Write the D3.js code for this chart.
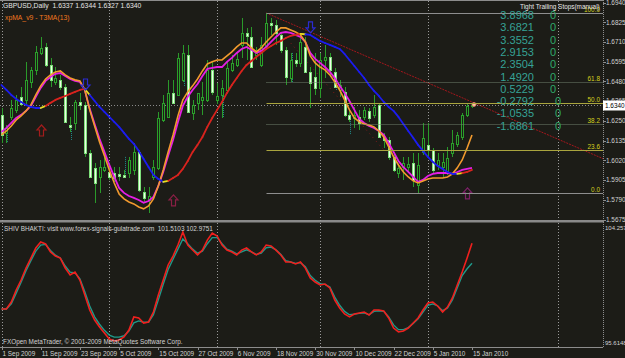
<!DOCTYPE html>
<html>
<head>
<meta charset="utf-8">
<script src="https://cdn.jsdelivr.net/npm/d3@7"></script>
<style>
  html, body { margin: 0; padding: 0; background: #1c1c17; }
  svg { display: block; }
  text { font-family: "Liberation Sans", Arial, sans-serif; }
</style>
</head>
<body>
<svg id="chart" width="625" height="358"></svg>
<script>
// ---- data ----
const symbolTitle = 'GBPUSD,Daily';
const indicatorTitle = 'xpMA_v9 - T3MA(13)';
const oscTitle = 'SHIV BHAKTI: visit www.forex-signals-gulatrade.com';
const copyright = 'FXOpen MetaTrader, \u00a9 2001-2009 MetaQuotes Software Corp.';

const dateLabels = ['1 Sep 2009', '11 Sep 2009', '23 Sep 2009', '5 Oct 2009', '15 Oct 2009', '27 Oct 2009',
  '6 Nov 2009', '18 Nov 2009', '30 Nov 2009', '10 Dec 2009', '22 Dec 2009', '5 Jan 2010', '15 Jan 2010'];
const dateBars = [0, 8, 16, 24, 32, 40, 48, 56, 64, 72, 80, 88, 96];
const monthStartBars = [0, 22, 44, 65, 87, 113.5];

const priceTicks = [1.6940, 1.6825, 1.6710, 1.6595, 1.6480, 1.6365, 1.6250, 1.6135, 1.6020, 1.5905, 1.5790, 1.5675];
const oscRange = [95.6148, 104.2575];

// daily bars: open, high, low, close
const ohlc = [
  [1.6285,1.6325,1.6121,1.6168],[1.6180,1.6226,1.6121,1.6209],[1.6273,1.6372,1.6255,1.6325],[1.6314,1.6401,1.6296,1.6372],
  [1.6390,1.6448,1.6337,1.6349],[1.6372,1.6594,1.6349,1.6489],[1.6477,1.6564,1.6442,1.6547],[1.6547,1.6687,1.6518,1.6652],
  [1.6646,1.6739,1.6634,1.6675],[1.6681,1.6704,1.6564,1.6576],[1.6576,1.6617,1.6448,1.6489],[1.6477,1.6564,1.6459,1.6500],
  [1.6489,1.6518,1.6430,1.6448],[1.6448,1.6465,1.6238,1.6244],[1.6226,1.6273,1.6185,1.6215],[1.6238,1.6372,1.6197,1.6360],
  [1.6360,1.6413,1.6314,1.6343],[1.6343,1.6360,1.6040,1.6063],[1.6063,1.6081,1.5917,1.5923],[1.5976,1.6005,1.5772,1.5888],
  [1.5923,1.6022,1.5830,1.5981],[1.5964,1.6040,1.5952,1.5981],[1.5952,1.6005,1.5906,1.5923],[1.5946,1.5981,1.5894,1.5917],
  [1.5941,1.5981,1.5900,1.5929],[1.5935,1.5964,1.5917,1.5923],[1.5946,1.6040,1.5917,1.6022],[1.5964,1.6121,1.5935,1.6069],
  [1.6069,1.6081,1.5836,1.5847],[1.5836,1.5865,1.5772,1.5801],[1.5789,1.5865,1.5713,1.5812],[1.5923,1.6022,1.5906,1.5981],
  [1.5976,1.6302,1.5964,1.6267],[1.6255,1.6401,1.6244,1.6355],[1.6273,1.6489,1.6267,1.6413],[1.6413,1.6489,1.6372,1.6355],
  [1.6401,1.6646,1.6395,1.6617],[1.6489,1.6693,1.6477,1.6646],[1.6634,1.6693,1.6296,1.6302],[1.6296,1.6372,1.6255,1.6343],
  [1.6355,1.6401,1.6314,1.6413],[1.6372,1.6477,1.6285,1.6390],[1.6372,1.6605,1.6360,1.6547],[1.6547,1.6594,1.6401,1.6419],
  [1.6372,1.6471,1.6349,1.6395],[1.6401,1.6489,1.6267,1.6442],[1.6430,1.6594,1.6419,1.6559],[1.6547,1.6634,1.6535,1.6588],
  [1.6576,1.6652,1.6564,1.6611],[1.6693,1.6850,1.6617,1.6763],[1.6763,1.6792,1.6605,1.6745],[1.6739,1.6798,1.6559,1.6564],
  [1.6634,1.6681,1.6605,1.6664],[1.6576,1.6739,1.6564,1.6693],[1.6681,1.6879,1.6675,1.6821],[1.6821,1.6850,1.6751,1.6809],
  [1.6809,1.6838,1.6693,1.6763],[1.6751,1.6768,1.6646,1.6664],[1.6664,1.6681,1.6459,1.6506],[1.6500,1.6646,1.6477,1.6605],
  [1.6605,1.6646,1.6564,1.6588],[1.6588,1.6763,1.6564,1.6710],[1.6681,1.6739,1.6529,1.6535],[1.6535,1.6564,1.6325,1.6471],
  [1.6506,1.6646,1.6401,1.6442],[1.6442,1.6646,1.6384,1.6605],[1.6605,1.6693,1.6500,1.6623],[1.6623,1.6646,1.6506,1.6547],
  [1.6535,1.6559,1.6442,1.6448],[1.6430,1.6489,1.6390,1.6459],[1.6419,1.6448,1.6273,1.6285],[1.6285,1.6314,1.6244,1.6261],
  [1.6267,1.6331,1.6209,1.6285],[1.6273,1.6314,1.6197,1.6238],[1.6273,1.6331,1.6255,1.6314],[1.6308,1.6325,1.6244,1.6267],
  [1.6285,1.6401,1.6267,1.6331],[1.6343,1.6355,1.6151,1.6156],[1.6156,1.6180,1.6092,1.6139],[1.6139,1.6156,1.6022,1.6040],
  [1.6040,1.6069,1.5952,1.5964],[1.5946,1.5993,1.5917,1.5976],[1.5981,1.6040,1.5906,1.6005],[1.5981,1.6040,1.5952,1.5999],
  [1.6005,1.6063,1.5865,1.5906],[1.5876,1.6063,1.5830,1.5993],[1.6069,1.6238,1.6051,1.6151],[1.6110,1.6238,1.6040,1.6081],
  [1.6081,1.6092,1.5946,1.5964],[1.5993,1.6063,1.5964,1.6022],[1.5981,1.6063,1.5923,1.6011],[1.5946,1.6098,1.5935,1.6034],
  [1.6063,1.6197,1.6040,1.6121],[1.6116,1.6185,1.6098,1.6168],[1.6156,1.6296,1.6139,1.6285],[1.6285,1.6355,1.6273,1.6337],
  [1.6337,1.6344,1.6327,1.6340]
];

// slow xpMA (blue falling / red rising)
const maSlow = [1.6459,1.6430,1.6401,1.6378,1.6360,1.6343,1.6331,1.6325,1.6325,1.6337,1.6355,1.6372,1.6384,1.6395,1.6407,1.6419,
  1.6430,1.6436,1.6401,1.6366,1.6331,1.6302,1.6273,1.6244,1.6215,1.6180,1.6145,1.6116,1.6075,1.6028,1.5981,1.5935,
  1.5911,1.5894,1.5900,1.5917,1.5935,1.5970,1.6016,1.6069,1.6110,1.6156,1.6215,1.6267,1.6314,1.6360,1.6413,1.6459,
  1.6500,1.6541,1.6576,1.6599,1.6623,1.6646,1.6669,1.6687,1.6704,1.6716,1.6733,1.6745,1.6751,1.6757,1.6755,1.6751,
  1.6733,1.6716,1.6704,1.6693,1.6681,1.6669,1.6640,1.6605,1.6570,1.6535,1.6500,1.6459,1.6425,1.6395,1.6360,1.6331,
  1.6308,1.6273,1.6232,1.6191,1.6151,1.6110,1.6075,1.6040,1.6011,1.5987,1.5970,1.5952,1.5941,1.5941,1.5946,1.5952,1.5964];
// fast MA (magenta)
const maFast = [1.6185,1.6209,1.6238,1.6267,1.6285,1.6308,1.6337,1.6390,1.6442,1.6483,1.6506,1.6524,1.6529,1.6512,1.6494,1.6483,
  1.6477,1.6430,1.6320,1.6232,1.6145,1.6069,1.5993,1.5923,1.5859,1.5830,1.5812,1.5801,1.5789,1.5772,1.5783,1.5807,
  1.5871,1.5952,1.6046,1.6139,1.6244,1.6337,1.6390,1.6430,1.6465,1.6512,1.6553,1.6559,1.6564,1.6564,1.6594,1.6617,
  1.6646,1.6669,1.6681,1.6664,1.6646,1.6658,1.6681,1.6710,1.6739,1.6763,1.6768,1.6763,1.6751,1.6739,1.6710,1.6646,
  1.6611,1.6588,1.6564,1.6535,1.6500,1.6454,1.6413,1.6366,1.6314,1.6261,1.6238,1.6220,1.6209,1.6191,1.6168,1.6121,
  1.6069,1.6016,1.5981,1.5952,1.5923,1.5894,1.5906,1.5929,1.5941,1.5946,1.5946,1.5946,1.5941,1.5952,1.5964,1.5970,1.5976];
// T3MA(13) (orange)
const maT3 = [1.6168,1.6191,1.6220,1.6255,1.6279,1.6308,1.6343,1.6401,1.6454,1.6494,1.6518,1.6535,1.6541,1.6518,1.6500,1.6489,
  1.6483,1.6430,1.6314,1.6220,1.6127,1.6046,1.5964,1.5888,1.5824,1.5795,1.5777,1.5766,1.5748,1.5737,1.5754,1.5795,
  1.5871,1.5964,1.6069,1.6168,1.6279,1.6372,1.6419,1.6454,1.6494,1.6541,1.6582,1.6594,1.6605,1.6605,1.6629,1.6652,
  1.6681,1.6704,1.6704,1.6675,1.6652,1.6675,1.6710,1.6739,1.6768,1.6792,1.6792,1.6780,1.6768,1.6751,1.6710,1.6629,
  1.6588,1.6564,1.6547,1.6518,1.6477,1.6430,1.6372,1.6314,1.6267,1.6244,1.6232,1.6226,1.6215,1.6191,1.6156,1.6098,
  1.6040,1.5993,1.5952,1.5923,1.5900,1.5888,1.5900,1.5911,1.5917,1.5917,1.5917,1.5923,1.5941,1.5976,1.6022,1.6092,1.6168];

// trailing-stop dots (bar, top, bottom)
const stopDots = [[1,1.6215,1.6121],[14,1.6226,1.6139],[25,1.6040,1.5923],[37,1.6646,1.6448],[45,1.6430,1.6267],
  [59,1.6646,1.6471],[68,1.6506,1.6430],[71,1.6285,1.6168],[80,1.6040,1.5964],[81,1.5976,1.5946]];

// signal arrows (bar, price at tip)
const upArrows = [[8,1.6226],[35,1.5818],[95,1.5859]];
const downArrows = [[17,1.6430],[63,1.6763]];

// fibonacci between the November high and the December low
const fibLevels = [100.0, 61.8, 50.0, 38.2, 23.6, 0.0];
const fibFromBar = 54, fibLowBar = 85;
// trend lines (bar, price) pairs
const trendMain = [[54,1.6879],[96,1.6360]];
const trendSteep = [[59,1.6704],[78,1.6080]];

const stopValues = [3.8968, 3.6821, 3.3552, 2.9153, 2.3504, 1.4920, 0.5229, -0.2792, -1.0535, -1.6861];
const stopFlags = [0, 0, 0, 0, 0, 0, 0, 0, 0, 0];

// oscillator (lower window)
const oscRed = [98.13,98.13,98.64,99.53,100.27,101.15,101.89,102.63,103.08,102.93,102.34,102.04,101.89,101.15,100.64,100.86,
  100.27,99.16,98.05,97.31,96.80,96.35,95.91,95.76,95.84,96.06,96.57,97.54,97.46,97.09,97.17,97.90,
  99.16,100.27,101.38,102.04,102.85,103.81,102.85,102.48,102.12,102.48,103.22,103.74,103.52,102.85,102.48,102.34,
  102.12,102.48,102.63,102.34,102.12,102.34,102.85,102.78,102.48,102.12,101.60,101.60,101.45,101.60,101.15,100.42,
  100.12,99.90,99.97,99.68,98.79,98.20,97.76,97.54,97.76,97.83,97.90,97.68,98.05,98.05,97.98,97.46,
  96.72,96.43,96.50,96.72,97.09,97.46,98.05,98.57,98.64,98.35,97.90,98.27,98.94,99.90,100.86,101.90,102.9751];
const oscTeal = [98.13,98.13,98.50,99.30,100.10,100.95,101.70,102.40,102.85,102.90,102.45,102.10,101.90,101.30,100.85,100.80,
  100.35,99.40,98.35,97.55,97.00,96.55,96.20,96.05,96.05,96.15,96.50,97.10,97.25,97.15,97.15,97.70,
  98.80,99.95,101.05,101.80,102.55,103.30,102.95,102.55,102.25,102.40,102.95,103.40,103.40,102.95,102.55,102.40,
  102.20,102.35,102.50,102.35,102.15,102.25,102.65,102.70,102.50,102.15,101.70,101.60,101.50,101.55,101.25,100.60,
  100.25,100.00,99.95,99.75,99.00,98.40,97.95,97.70,97.75,97.80,97.85,97.70,97.95,98.00,97.95,97.55,
  96.95,96.60,96.60,96.75,97.05,97.40,97.90,98.40,98.50,98.35,98.00,98.20,98.80,99.70,100.60,101.10,101.5103];

// ---- drawing ----
const bg = '#1c1c17';
const plotRight = 603, mainBottom = 220, oscTop = 223, oscBottom = 347;
const fontSmall = 6.4;

function render() {
  const svg = d3.select('#chart');
  svg.append('rect').attr('width', 625).attr('height', 358).attr('fill', bg);

  const x = d3.scaleLinear().domain([0, 96]).range([1.5, 472]);
  const y = d3.scaleLinear().domain([1.5675, 1.6940]).range([219.5, 2.5]);
  const yo = d3.scaleLinear().domain(oscRange).range([343, 226]);
  const px = i => Math.round(x(i)) + 0.5;
  const py = v => Math.round(y(v)) + 0.5;

  const defs = svg.append('defs');
  defs.append('clipPath').attr('id', 'clipMain').append('rect')
    .attr('x', 0).attr('y', 1).attr('width', plotRight).attr('height', mainBottom - 1);
  defs.append('clipPath').attr('id', 'clipOsc').append('rect')
    .attr('x', 0).attr('y', oscTop).attr('width', plotRight).attr('height', oscBottom - oscTop);

  // frame
  svg.append('line').attr('x1', 0).attr('x2', plotRight).attr('y1', 0.5).attr('y2', 0.5).attr('stroke', '#8c8c8c');
  svg.append('rect').attr('x', 0).attr('y', mainBottom).attr('width', plotRight + 1).attr('height', 2.5).attr('fill', '#8a8a8a');
  svg.append('line').attr('x1', 0).attr('x2', plotRight).attr('y1', oscBottom + 0.5).attr('y2', oscBottom + 0.5).attr('stroke', '#8c8c8c');
  svg.append('line').attr('x1', plotRight + 0.5).attr('x2', plotRight + 0.5).attr('y1', 0).attr('y2', oscBottom)
    .attr('stroke', '#8c8c8c').attr('stroke-dasharray', '1,1');

  // month separators
  svg.append('g').selectAll('line').data(monthStartBars).enter().append('line')
    .attr('x1', d => px(d)).attr('x2', d => px(d)).attr('y1', 1).attr('y2', oscBottom)
    .attr('stroke', '#9a9a9a').attr('stroke-dasharray', '1,2');

  const main = svg.append('g').attr('clip-path', 'url(#clipMain)');
  const last = ohlc[ohlc.length - 1];

  // bid line
  main.append('line').attr('x1', 0).attr('x2', plotRight).attr('y1', py(last[3])).attr('y2', py(last[3]))
    .attr('stroke', '#8a8a8a').attr('stroke-dasharray', '1,2');

  // fibonacci
  const fibHigh = ohlc[fibFromBar][1], fibLow = ohlc[fibLowBar][2];
  const fibColor = l => (l === 100 || l === 0) ? '#8e8e8e' : (l === 61.8 || l === 38.2) ? '#71806e' : '#aaa53e';
  const fib = svg.append('g');
  fibLevels.forEach(l => {
    const v = fibLow + (fibHigh - fibLow) * l / 100;
    fib.append('line').attr('x1', px(fibFromBar)).attr('x2', plotRight).attr('y1', py(v)).attr('y2', py(v))
      .attr('stroke', fibColor(l)).attr('stroke-dasharray', (l === 61.8 || l === 38.2) ? '1,1' : null);
    fib.append('text').attr('x', 600).attr('y', py(v) - 2).attr('text-anchor', 'end')
      .attr('font-size', fontSmall).attr('fill', '#d6d21e').text(l.toFixed(1));
  });

  // trend lines
  const extend = (pts, toBar) => {
    const k = (pts[1][1] - pts[0][1]) / (pts[1][0] - pts[0][0]);
    return [pts[0], [toBar, pts[0][1] + k * (toBar - pts[0][0])]];
  };
  const tl = extend(trendMain, x.invert(plotRight));
  main.append('line').attr('x1', x(tl[0][0])).attr('y1', y(tl[0][1])).attr('x2', x(tl[1][0])).attr('y2', y(tl[1][1]))
    .attr('stroke', '#a5161c').attr('stroke-width', 1).attr('stroke-dasharray', '2,1');
  main.append('line').attr('x1', x(trendSteep[0][0])).attr('y1', y(trendSteep[0][1]))
    .attr('x2', x(trendSteep[1][0])).attr('y2', y(trendSteep[1][1]))
    .attr('stroke', '#8a1a1a').attr('stroke-dasharray', '1,4');

  // trailing stop dots
  main.append('g').selectAll('line').data(stopDots).enter().append('line')
    .attr('x1', d => px(d[0]) + 1).attr('x2', d => px(d[0]) + 1)
    .attr('y1', d => y(d[1])).attr('y2', d => y(d[2]))
    .attr('stroke', '#1f8d8d').attr('stroke-dasharray', '1,1');

  // candles
  const cg = main.append('g').attr('shape-rendering', 'crispEdges');
  const bars = cg.selectAll('g').data(ohlc).enter().append('g');
  bars.append('line')
    .attr('x1', (d, i) => px(i)).attr('x2', (d, i) => px(i))
    .attr('y1', d => y(d[1])).attr('y2', d => y(d[2]))
    .attr('stroke', '#2a9a2a');
  bars.append('rect')
    .attr('x', (d, i) => px(i) - 1)
    .attr('y', d => py(Math.max(d[0], d[3])))
    .attr('width', 2)
    .attr('height', d => Math.max(1, py(Math.min(d[0], d[3])) - py(Math.max(d[0], d[3]))))
    .attr('fill', d => d[3] >= d[0] ? bg : '#eefce8')
    .attr('stroke', d => d[3] >= d[0] ? '#2aa02a' : '#7ee07a');

  // moving averages
  const line = d3.line().x((d, i) => x(i)).y(d => y(d));
  main.append('path').datum(maFast).attr('d', line).attr('fill', 'none')
    .attr('stroke', '#e51ee5').attr('stroke-width', 1.8);
  main.append('path').datum(maT3).attr('d', line).attr('fill', 'none')
    .attr('stroke', '#f29a2e').attr('stroke-width', 1.6);

  // slow MA coloured by direction
  let prevDir = -1;
  const segs = [];
  for (let i = 0; i < maSlow.length - 1; i++) {
    let dir = Math.sign(maSlow[i + 1] - maSlow[i]);
    if (dir === 0) dir = prevDir;
    const color = (i > 0 && dir !== prevDir) ? '#e8e020' : (dir > 0 ? '#d8231e' : '#1c1cf0');
    segs.push({ i, color });
    prevDir = dir;
  }
  main.append('g').selectAll('line').data(segs).enter().append('line')
    .attr('x1', d => x(d.i)).attr('y1', d => y(maSlow[d.i]))
    .attr('x2', d => x(d.i + 1)).attr('y2', d => y(maSlow[d.i + 1]))
    .attr('stroke', d => d.color).attr('stroke-width', 1.8).attr('stroke-linecap', 'round');

  // arrows
  const upPath = 'M0,0 L4.5,5 L2,5 L2,11 L-2,11 L-2,5 L-4.5,5 Z';
  const upColors = ['#a31c1c', '#8a1f45', '#7e2068'];
  main.append('g').selectAll('path').data(upArrows).enter().append('path')
    .attr('d', upPath).attr('transform', d => `translate(${px(d[0])},${y(d[1])})`)
    .attr('fill', 'none').attr('stroke', (d, i) => upColors[i]).attr('stroke-width', 1.2);
  main.append('g').selectAll('path').data(downArrows).enter().append('path')
    .attr('d', upPath).attr('transform', d => `translate(${px(d[0])},${y(d[1])}) scale(1,-1)`)
    .attr('fill', 'none').attr('stroke', '#2b2bd0').attr('stroke-width', 1.2);

  // last price marker
  main.append('circle').attr('cx', x(96) + 2).attr('cy', y(last[3]) - 1).attr('r', 2)
    .attr('fill', '#f6c9a0').attr('stroke', '#e86a6a').attr('stroke-width', 0.8);

  // oscillator
  const osc = svg.append('g').attr('clip-path', 'url(#clipOsc)');
  const oline = d3.line().x((d, i) => x(i)).y(d => yo(d));
  osc.append('path').datum(oscTeal).attr('d', oline).attr('fill', 'none')
    .attr('stroke', '#1f9a8a').attr('stroke-width', 1.4);
  osc.append('path').datum(oscRed).attr('d', oline).attr('fill', 'none')
    .attr('stroke', '#f0201e').attr('stroke-width', 1.6);

  // price axis
  const ax = svg.append('g');
  ax.selectAll('line.t').data(priceTicks).enter().append('line')
    .attr('x1', plotRight).attr('x2', plotRight + 3).attr('y1', d => py(d)).attr('y2', d => py(d)).attr('stroke', '#8c8c8c');
  ax.selectAll('text.t').data(priceTicks).enter().append('text')
    .attr('x', 606).attr('y', d => y(d) + 2.3).attr('font-size', fontSmall).attr('fill', '#d2d2d2')
    .text(d => d.toFixed(4));
  ax.append('rect').attr('x', plotRight).attr('y', py(last[3]) - 5).attr('width', 22).attr('height', 10).attr('fill', '#ffffff');
  ax.append('text').attr('x', 605).attr('y', py(last[3]) + 2.3).attr('font-size', fontSmall).attr('fill', '#000')
    .text(last[3].toFixed(4));
  ax.append('text').attr('x', 605).attr('y', 229.5).attr('font-size', 6).attr('fill', '#d2d2d2').text(oscRange[1].toFixed(4));
  ax.append('text').attr('x', 605).attr('y', 345).attr('font-size', 6).attr('fill', '#d2d2d2').text(oscRange[0].toFixed(4));

  // time axis
  const tx = svg.append('g');
  tx.selectAll('line').data(dateBars).enter().append('line')
    .attr('x1', d => px(d)).attr('x2', d => px(d)).attr('y1', oscBottom).attr('y2', oscBottom + 3).attr('stroke', '#8c8c8c');
  tx.selectAll('text').data(dateLabels).enter().append('text')
    .attr('x', (d, i) => x(dateBars[i]) + 1).attr('y', 355.5).attr('font-size', fontSmall).attr('fill', '#d2d2d2')
    .text(d => d);

  // titles
  const f4 = v => v.toFixed(4);
  svg.append('text').attr('x', 3).attr('y', 8).attr('font-size', 6.8).attr('fill', '#e6e6e6')
    .attr('xml:space', 'preserve')
    .text(`${symbolTitle}  ${f4(last[0])} ${f4(last[1])} ${f4(last[2])} ${f4(last[3])}`);
  svg.append('text').attr('x', 5).attr('y', 20).attr('font-size', 6.8).attr('fill', '#f0781e').text(indicatorTitle);
  svg.append('text').attr('x', 4).attr('y', 231).attr('font-size', fontSmall).attr('fill', '#d2d2d2')
    .attr('xml:space', 'preserve')
    .text(`${oscTitle}  ${oscTeal[oscTeal.length - 1].toFixed(4)} ${oscRed[oscRed.length - 1].toFixed(4)}`);
  svg.append('text').attr('x', 3).attr('y', 344).attr('font-size', fontSmall).attr('fill', '#d2d2d2').text(copyright);

  // trailing stops panel
  svg.append('text').attr('x', 520).attr('y', 9).attr('font-size', fontSmall).attr('fill', '#e8e8e8')
    .text('Tight Trailing Stops(manual)');
  const sp = svg.append('g');
  sp.selectAll('text.v').data(stopValues).enter().append('text')
    .attr('x', 534).attr('y', (d, i) => 19 + i * 12.3).attr('text-anchor', 'end')
    .attr('font-size', 11).attr('fill', '#36a296').text(d => d.toFixed(4));
  sp.selectAll('text.f').data(stopFlags).enter().append('text')
    .attr('x', (d, i) => stopValues[i] < 0 ? 555 : 550).attr('y', (d, i) => 19 + i * 12.3)
    .attr('font-size', 11).attr('fill', '#2fa86a').text(d => d);
}

render();
</script>
</body>
</html>
